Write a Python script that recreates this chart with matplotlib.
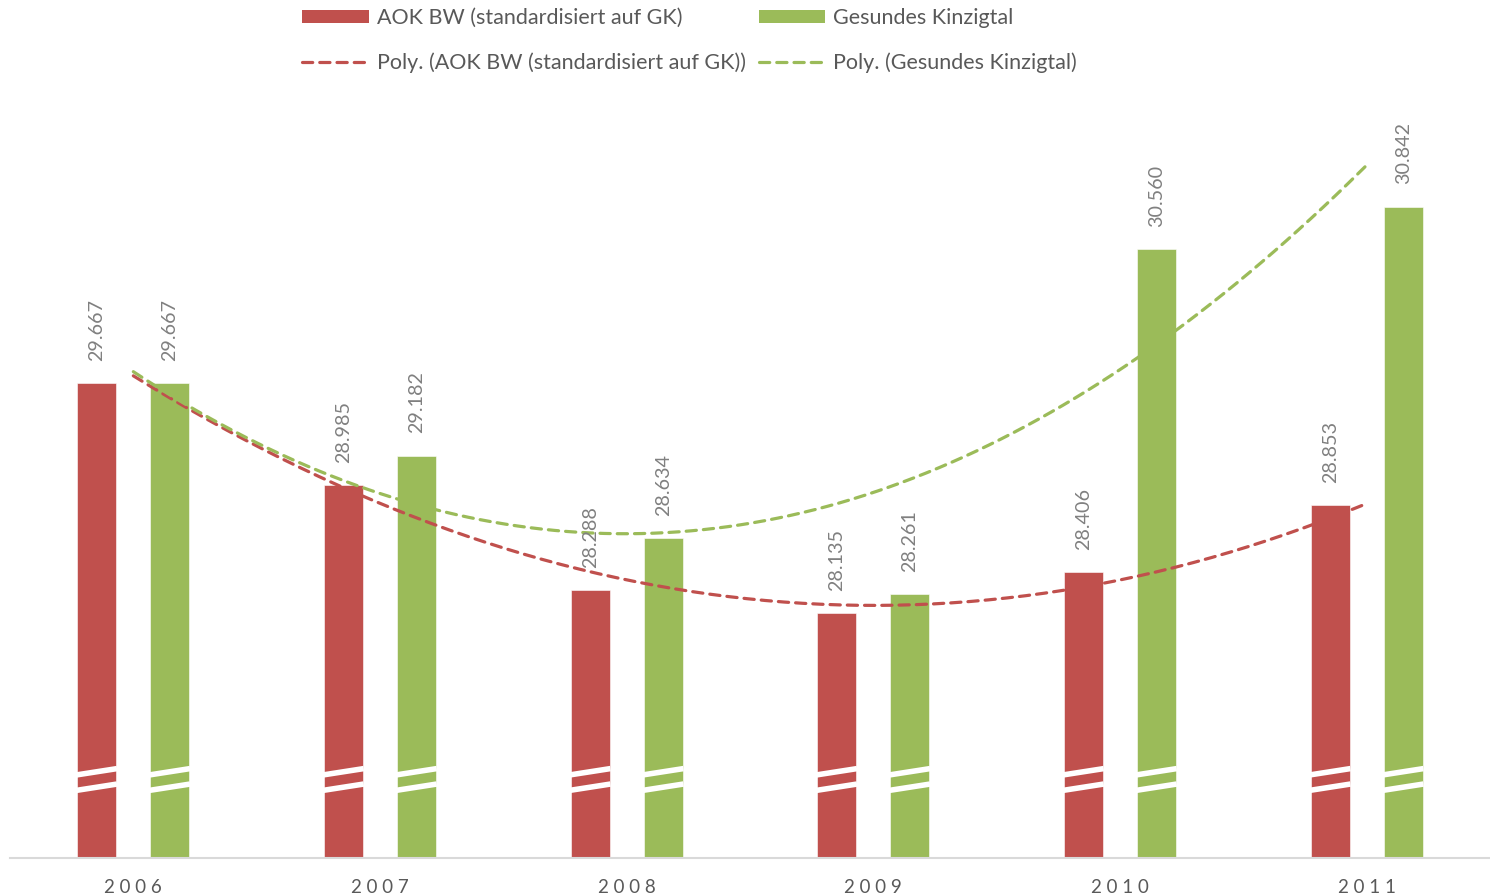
import numpy as np
import matplotlib
matplotlib.use("Agg")
import matplotlib.pyplot as plt
from matplotlib.patches import Patch
from matplotlib.lines import Line2D

years = ["2006", "2007", "2008", "2009", "2010", "2011"]
aok = [29.667, 28.985, 28.288, 28.135, 28.406, 28.853]
gk = [29.667, 29.182, 28.634, 28.261, 30.560, 30.842]
series_names = ["AOK BW (standardisiert auf GK)", "Gesundes Kinzigtal"]

RED = "#C0504D"
GREEN = "#9BBB59"
TXT = "#595959"
LBL = "#808080"
FONT = "Lato"

plt.rcParams['font.family'] = [FONT, 'DejaVu Sans']

fig = plt.figure(figsize=(14.9, 8.96), dpi=100)
ax = fig.add_axes([10/1490, 38/896, 1480/1490, 750/896])

x = np.arange(len(years))
bw = 0.158
off = 0.148
ymin, ymax = 26.5, 31.5

b1 = ax.bar(x - off, np.array(aok) - ymin, bw, bottom=ymin, color=RED, edgecolor="white", linewidth=0.4, zorder=2)
b2 = ax.bar(x + off, np.array(gk) - ymin, bw, bottom=ymin, color=GREEN, edgecolor="white", linewidth=0.4, zorder=2)

# axis-break marks (white slanted bands)
for bars in (b1, b2):
    for p in bars:
        x0 = p.get_x() - 0.003
        x1 = p.get_x() + p.get_width() + 0.003
        for yc in (27.075, 26.972):
            ax.plot([x0, x1], [yc - 0.021, yc + 0.021], color="white", lw=4.0, solid_capstyle="butt", zorder=3)

# data labels
def fmt(v):
    return f"{v:.3f}"
for bars, vals in ((b1, aok), (b2, gk)):
    for p, v in zip(bars, vals):
        ax.annotate(fmt(v), (p.get_x() + p.get_width()/2, v), xytext=(0, 16), textcoords="offset points",
                    rotation=90, ha="center", va="bottom", color=LBL, fontsize=14.2, zorder=5)

# polynomial trend lines (order 2)
xx = np.linspace(0, len(years) - 1, 200)
for vals, col in ((aok, RED), (gk, GREEN)):
    c = np.polyfit(x, vals, 2)
    ax.plot(xx, np.polyval(c, xx), color=col, lw=2.3, ls=(0, (3.2, 2.2)), dash_capstyle="round", zorder=4)

ax.set_xlim(-0.5, len(years) - 0.5)
ax.set_ylim(ymin, ymax)
ax.set_yticks([])
ax.set_xticks(x)
ax.set_xticklabels([" ".join(y) for y in years])
ax.tick_params(axis="x", length=0, pad=15, labelsize=13.5, labelcolor=TXT)
for s in ("top", "right", "left"):
    ax.spines[s].set_visible(False)
ax.spines["bottom"].set_color("#D9D9D9")
ax.spines["bottom"].set_linewidth(1.5)

handles = [
    Patch(facecolor=RED, edgecolor="none", label=series_names[0]),
    Line2D([], [], color=RED, lw=2.3, ls=(0, (3.2, 2.2)), dash_capstyle="round", label=f"Poly. ({series_names[0]})"),
    Patch(facecolor=GREEN, edgecolor="none", label=series_names[1]),
    Line2D([], [], color=GREEN, lw=2.3, ls=(0, (3.2, 2.2)), dash_capstyle="round", label=f"Poly. ({series_names[1]})"),
]
leg = fig.legend(handles=handles, ncol=2, loc="upper left", bbox_to_anchor=(302/1490, 1 - 8/896),
                 frameon=False, fontsize=15.5, handlelength=3.1, handleheight=0.6, handletextpad=0.37,
                 columnspacing=0.6, labelspacing=1.15, labelcolor=TXT, borderpad=0, borderaxespad=0)

fig.savefig("out.png", dpi=100, facecolor="white")
